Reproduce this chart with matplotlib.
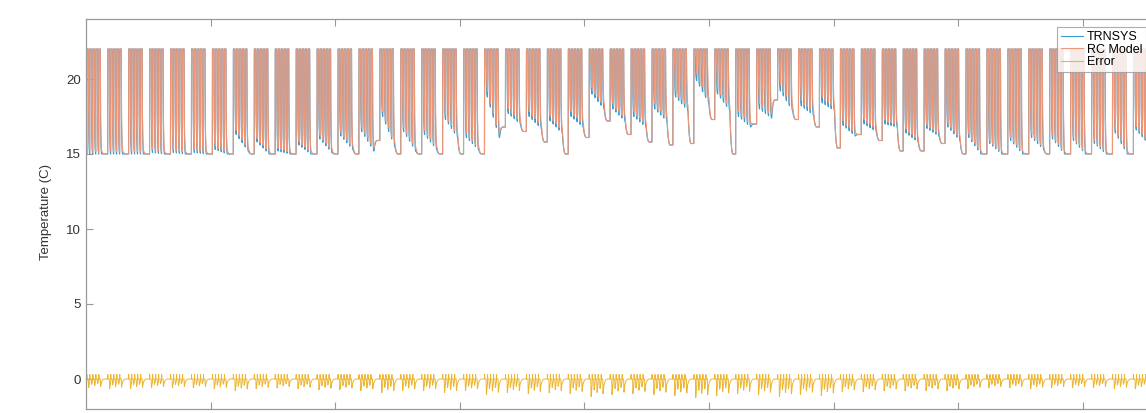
import numpy as np
import matplotlib
matplotlib.use('Agg')
import matplotlib.pyplot as plt

plt.rcParams['font.family'] = ['Liberation Sans', 'DejaVu Sans']

# weekly values (52 weeks, hourly simulation of one year)
# TRNSYS night low on monday night / friday night
mon_low = [15.0, 15.0, 15.0, 15.1, 15.1, 15.1, 15.3, 16.3, 15.8, 15.2,
           15.6, 16.0, 16.2, 16.5, 17.5, 16.5, 16.3, 17.3, 16.1, 18.8,
           17.7, 17.5, 17.2, 17.5, 19.0, 18.0, 17.5, 18.0, 18.8, 19.9,
           19.0, 17.5, 18.0, 19.2, 18.2, 18.4, 16.9, 17.0, 17.0, 16.4,
           16.7, 16.8, 16.1, 15.7, 15.9, 16.1, 16.0, 15.9, 15.7, 16.4,
           16.6, 16.0]
fri_low = [15.0, 15.0, 15.0, 15.0, 15.0, 15.0, 15.0, 15.2, 15.0, 15.0,
           15.0, 15.1, 15.3, 15.2, 15.5, 15.2, 15.3, 16.1, 15.3, 16.1,
           17.0, 16.7, 16.4, 16.8, 18.0, 17.2, 16.8, 17.2, 17.9, 18.4,
           17.9, 16.8, 17.4, 17.9, 17.6, 17.9, 16.2, 16.5, 16.8, 15.8,
           16.2, 15.9, 15.0, 15.0, 15.0, 15.3, 15.0, 15.0, 15.0, 15.0,
           15.7, 15.0]
# weekend floor
weekend_low = [15.0, 15.0, 15.0, 15.0, 15.0, 15.0, 15.0, 15.0, 15.0, 15.0,
               15.0, 15.0, 15.0, 15.9, 15.0, 15.0, 15.0, 15.0, 15.0, 16.8,
               16.5, 15.8, 15.0, 16.1, 17.2, 16.3, 15.8, 15.6, 15.7, 17.3,
               15.0, 17.0, 18.6, 17.3, 16.8, 15.4, 16.3, 15.9, 15.2, 15.2,
               15.7, 15.0, 15.0, 15.0, 15.0, 15.0, 15.0, 15.0, 15.0, 15.0,
               15.0, 15.0]
# size of the night error (TRNSYS - RC), degC
week_err = [0.45, 0.5, 0.5, 0.45, 0.45, 0.45, 0.5, 0.6, 0.5, 0.45,
            0.5, 0.55, 0.55, 0.6, 0.7, 0.6, 0.6, 0.7, 0.6, 0.8,
            0.7, 0.75, 0.7, 0.75, 0.9, 0.8, 0.75, 0.8, 0.85, 0.95,
            0.85, 0.75, 0.8, 0.9, 0.8, 0.85, 0.65, 0.65, 0.6, 0.6,
            0.6, 0.6, 0.5, 0.45, 0.45, 0.5, 0.45, 0.45, 0.45, 0.5,
            0.5, 0.45]
night_err_scale = [1.3, 0.8, 1.0, 0.7, 1.1]

setpoint = 22.0
start_trnsys = 18.1
start_rc = 19.9
morning_lag = 0.3
on_hour, off_hour = 7, 20
# fraction of (setpoint - low) left after each night hour, 20h..6h
night_frac = [0.5, 0.33, 0.22, 0.15, 0.1, 0.06, 0.04, 0.02, 0.01, 0.0, 0.0]
err_shape = [0.5, 0.95, 1.0, 0.9, 0.8, 0.7, 0.6, 0.5, 0.45, 0.4, 0.35]
# how the weekend temperature falls from friday low to weekend floor (24 h)
weekend_frac = [1.0, 0.9, 0.8, 0.72, 0.64, 0.57, 0.5, 0.44, 0.38, 0.33, 0.28, 0.24,
                0.2, 0.17, 0.14, 0.11, 0.09, 0.07, 0.05, 0.04, 0.03, 0.02, 0.01, 0.0]

n_night = 24 - off_hour + on_hour
n_hours = 8760
trnsys = []
rc = []
for k in range(53):
    w = min(k, 51)
    for d in range(7):
        for h in range(24):
            if d < 5 and on_hour <= h < off_hour:
                t = setpoint
                r = setpoint - morning_lag if h == on_hour else setpoint
            elif d < 5 and h >= off_hour:
                low = mon_low[w] + (fri_low[w] - mon_low[w]) * d / 4
                i = h - off_hour
                e = week_err[w] * night_err_scale[d]
                t = low + night_frac[i] * (setpoint - low)
                r = t + e * err_shape[i]
            elif d < 5 and h < on_hour and d > 0:
                low = mon_low[w] + (fri_low[w] - mon_low[w]) * (d - 1) / 4
                i = h + 24 - off_hour
                e = week_err[w] * night_err_scale[d - 1]
                t = low + night_frac[i] * (setpoint - low)
                r = t + e * err_shape[i]
            elif d == 0 and h < on_hour:
                # monday morning, end of weekend
                prev = min(max(k - 1, 0), 51)
                t = weekend_low[prev]
                r = t
            else:
                # weekend: hours since friday switch-off
                s = (d - 5) * 24 + h + 24 - off_hour
                low = fri_low[w]
                e = week_err[w] * night_err_scale[4]
                if s < n_night:
                    t = low + night_frac[s] * (setpoint - low)
                    r = t + e * err_shape[s]
                elif s < n_night + 24:
                    f = weekend_frac[s - n_night]
                    t = weekend_low[w] + f * (low - weekend_low[w])
                    r = t + e * err_shape[-1] * f
                else:
                    t = weekend_low[w]
                    r = t
            trnsys.append(t)
            rc.append(r)

trnsys = np.array(trnsys[:n_hours])
rc = np.array(rc[:n_hours])
# first hours of the simulation
trnsys[:7] = [start_trnsys, 17.0, 16.2, 15.6, 15.3, 15.1, 15.0]
rc[:7] = [start_rc, 18.4, 17.3, 16.5, 15.9, 15.4, 15.1]
error = trnsys - rc
hours = np.arange(n_hours)

fig = plt.figure(figsize=(11.46, 4.13), dpi=100)
ax = fig.add_axes([86 / 1146, 4 / 413, 1091.5 / 1146, 390 / 413])

ax.plot(hours, trnsys, color='#3C9BD0', lw=0.8, label='TRNSYS')
ax.plot(hours, rc, color='#EE9676', lw=0.8, label='RC Model')
ax.plot(hours, error, color='#EDB530', lw=0.7, label='Error')

ax.set_xlim(0, 8760)
ax.set_ylim(-2, 24)
ax.set_yticks([0, 5, 10, 15, 20])
ax.set_xticks(np.arange(1000, 9000, 1000))
ax.set_xticklabels([])
ax.set_ylabel('Temperature (C)', fontsize=9.5, color='#333333')
ax.yaxis.set_label_coords(-0.031, 0.505)
ax.tick_params(direction='in', length=5, width=0.8, colors='#999999',
               labelcolor='#333333', labelsize=9.5, top=True, right=True)
for s in ax.spines.values():
    s.set_color('#999999')
    s.set_linewidth(0.9)

leg = ax.legend(loc='upper left', bbox_to_anchor=(0.8896, 0.979), borderaxespad=0,
                fontsize=9, frameon=True, fancybox=False, handlelength=1.8,
                handletextpad=0.3, labelspacing=0.05, borderpad=0.3)
leg.get_frame().set_edgecolor('#999999')
leg.get_frame().set_linewidth(0.8)
for line in leg.get_lines():
    line.set_linewidth(0.8)

fig.savefig('out.png', dpi=100)
